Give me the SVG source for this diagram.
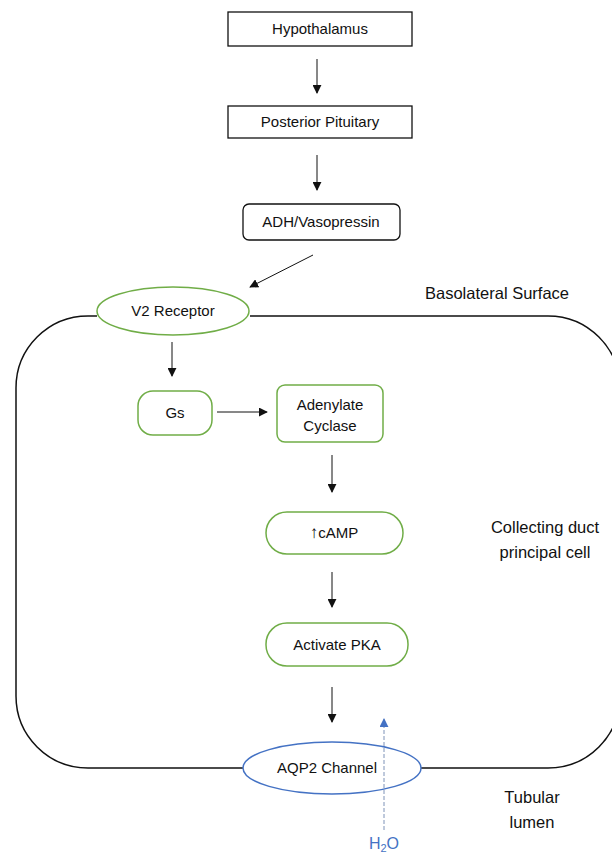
<svg xmlns="http://www.w3.org/2000/svg" width="612" height="856" viewBox="0 0 612 856">
<style>
.t{font-family:"Liberation Sans",Arial,sans-serif;font-size:15px;fill:#111;text-anchor:middle}
.l{font-family:"Liberation Sans",Arial,sans-serif;font-size:16.5px;fill:#111;text-anchor:middle}
.bk{fill:#fff;stroke:#111;stroke-width:1.3}
.gr{fill:#fff;stroke:#70AD47;stroke-width:1.5}
.bl{fill:#fff;stroke:#4472C4;stroke-width:1.5}
.c{stroke:#111;stroke-width:1;fill:none;marker-end:url(#ah)}
</style>
<defs>
<marker id="ah" viewBox="0 0 10 10" refX="9" refY="5" markerWidth="9" markerHeight="9" markerUnits="userSpaceOnUse" orient="auto"><path d="M0,0 L10,5 L0,10 z" fill="#111"/></marker>
<marker id="ahb" viewBox="0 0 10 10" refX="9" refY="5" markerWidth="9" markerHeight="9" markerUnits="userSpaceOnUse" orient="auto"><path d="M0,0 L10,5 L0,10 z" fill="#4472C4"/></marker>
</defs>
<g id="cell">
<path d="M97,316 L88,316 A72,72 0 0 0 16,388 L16,696 A72,72 0 0 0 88,768 L243,768 M421,768 L548,768 A72,72 0 0 0 620,696 L620,388 A72,72 0 0 0 548,316 L250,316" fill="none" stroke="#111" stroke-width="1.5"/>
</g>
<g id="labels">
<text class="l" x="497" y="299">Basolateral Surface</text>
<text class="l" x="545" y="533">Collecting duct</text>
<text class="l" x="545" y="558">principal cell</text>
<text class="l" x="532" y="803">Tubular</text>
<text class="l" x="532" y="828">lumen</text>
</g>
<g id="hypothalamus"><rect class="bk" x="228" y="12" width="184" height="34"/><text class="t" x="320" y="34">Hypothalamus</text></g>
<g id="posterior-pituitary"><rect class="bk" x="228" y="106" width="184" height="32"/><text class="t" x="320" y="127">Posterior Pituitary</text></g>
<g id="adh"><rect class="bk" x="243" y="204" width="157" height="36" rx="6"/><text class="t" x="321" y="227">ADH/Vasopressin</text></g>
<g id="v2-receptor"><ellipse class="gr" cx="173" cy="311" rx="76" ry="24"/><text class="t" x="173" y="316">V2 Receptor</text></g>
<g id="gs"><rect class="gr" x="138" y="391" width="74" height="44" rx="15"/><text class="t" x="175" y="418">Gs</text></g>
<g id="adenylate-cyclase"><rect class="gr" x="277" y="385" width="106" height="57" rx="8"/><text class="t" x="330" y="410">Adenylate</text><text class="t" x="330" y="431">Cyclase</text></g>
<g id="camp"><rect class="gr" x="266" y="512" width="137" height="42" rx="21"/><text class="t" x="334" y="538"><tspan font-size="17">↑</tspan>cAMP</text></g>
<g id="pka"><rect class="gr" x="266" y="623" width="142" height="43" rx="21"/><text class="t" x="337" y="650">Activate PKA</text></g>
<g id="aqp2"><ellipse class="bl" cx="332" cy="768" rx="89" ry="26"/><text class="t" x="327" y="773">AQP2 Channel</text></g>
<g id="h2o"><text x="384" y="849" font-family="Liberation Sans,Arial,sans-serif" font-size="16" fill="#4472C4" text-anchor="middle">H<tspan font-size="11" dy="3">2</tspan><tspan dy="-3">O</tspan></text></g>
<g id="connectors">
<line class="c" x1="317" y1="59" x2="317" y2="93"/>
<line class="c" x1="317" y1="155" x2="317" y2="190"/>
<line class="c" x1="313" y1="255" x2="250" y2="287"/>
<line class="c" x1="172" y1="342" x2="172" y2="376"/>
<line class="c" x1="217" y1="412" x2="267" y2="412"/>
<line class="c" x1="332" y1="455" x2="332" y2="492"/>
<line class="c" x1="332" y1="572" x2="332" y2="607"/>
<line class="c" x1="332" y1="687" x2="332" y2="722"/>
<line x1="384" y1="830" x2="384" y2="719" stroke="#7f93b8" stroke-width="1" stroke-dasharray="4,2" marker-end="url(#ahb)"/>
</g>
</svg>
